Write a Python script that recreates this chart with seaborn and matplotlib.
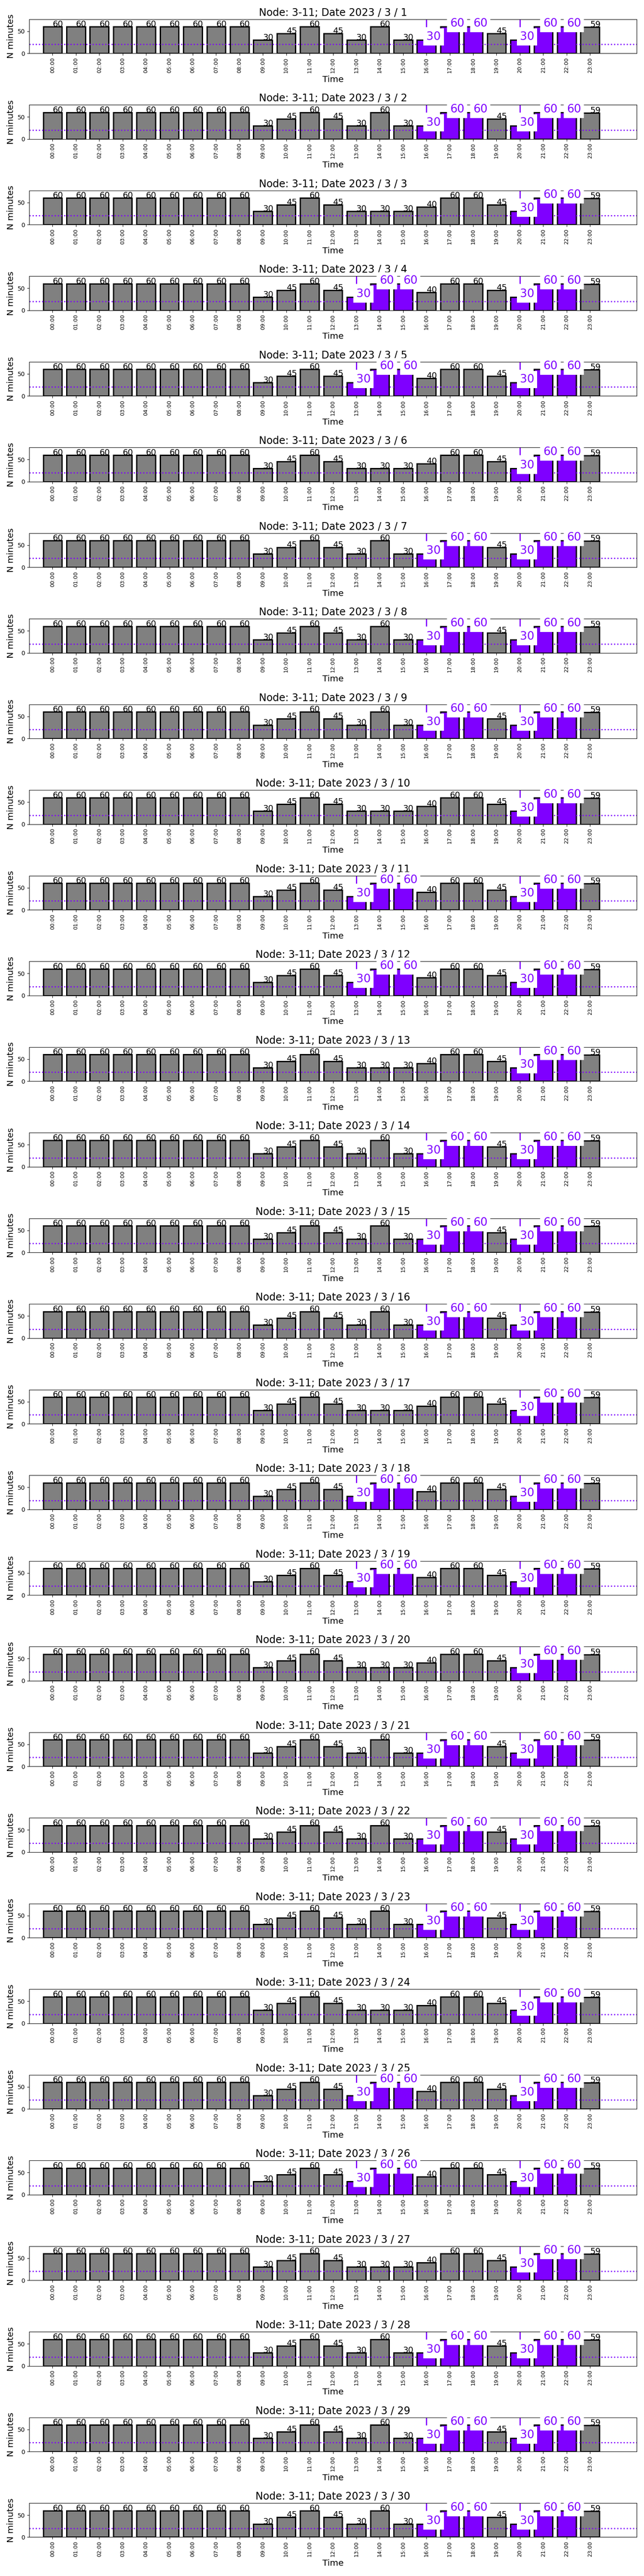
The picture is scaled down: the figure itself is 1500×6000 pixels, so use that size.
import matplotlib
matplotlib.use("Agg")
import matplotlib.pyplot as plt
import seaborn as sns
import pandas as pd

# ---------------- data ----------------
hours = ["00:00", "01:00", "02:00", "03:00", "04:00", "05:00", "06:00", "07:00",
         "08:00", "09:00", "10:00", "11:00", "12:00", "13:00", "14:00", "15:00",
         "16:00", "17:00", "18:00", "19:00", "20:00", "21:00", "22:00", "23:00"]

values_A = [60, 60, 60, 60, 60, 60, 60, 60, 60, 30, 45, 60,
            45, 30, 60, 30, 30, 60, 60, 45, 30, 60, 60, 59]
values_B = [60, 60, 60, 60, 60, 60, 60, 60, 60, 30, 45, 60,
            45, 30, 30, 30, 40, 60, 60, 45, 30, 60, 60, 59]
values_C = [60, 60, 60, 60, 60, 60, 60, 60, 60, 30, 45, 60,
            45, 30, 60, 60, 40, 60, 60, 45, 30, 60, 60, 59]

highlight_A = ["16:00", "17:00", "18:00", "20:00", "21:00", "22:00"]
highlight_B = ["20:00", "21:00", "22:00"]
highlight_C = ["13:00", "14:00", "15:00", "20:00", "21:00", "22:00"]

days = list(range(1, 31))
day_types = ["A", "A", "B", "C", "C", "B", "A", "A", "A", "B",
             "C", "C", "B", "A", "A", "A", "B", "C", "C", "B",
             "A", "A", "A", "B", "C", "C", "B", "A", "A", "A"]

node = "3-11"
threshold = 20

series = {"A": values_A, "B": values_B, "C": values_C}
highlights = {"A": highlight_A, "B": highlight_B, "C": highlight_C}

GRAY = "#808080"
PURPLE = "#7F00FF"
YMAX = 77

fig = plt.figure(figsize=(15, 60), dpi=100)
axes = fig.subplots(30, 1)
fig.subplots_adjust(left=0.0453, right=0.9887, top=1 - 45 / 6000,
                    bottom=1 - 5909.5 / 6000, hspace=1.525)

for ax, day, dt in zip(axes, days, day_types):
    vals = series[dt]
    hl = highlights[dt]
    df = pd.DataFrame({"Time": hours, "N minutes": vals})
    colors = [PURPLE if h in hl else GRAY for h in hours]
    sns.barplot(data=df, x="Time", y="N minutes", hue="Time", palette=colors,
                saturation=1, legend=False, edgecolor="black", linewidth=2.2,
                ax=ax)
    ax.axhline(threshold, color=PURPLE, linestyle=":", linewidth=2, zorder=2)
    for i, (h, v) in enumerate(zip(hours, vals)):
        if h in hl:
            # dash-dot marker line above highlighted bars
            ax.plot([i, i], [YMAX, v], color=PURPLE, linestyle="-.",
                    linewidth=2, zorder=0.5)
            ax.text(i, v, str(v), color=PURPLE, fontsize=19, zorder=4,
                    bbox=dict(facecolor="white", edgecolor="none", pad=5))
        else:
            ax.text(i, v, str(v), color="black", fontsize=14, zorder=4)
    ax.set_xlim(-1, 25)
    ax.set_ylim(0, YMAX)
    ax.set_yticks([0, 50])
    ax.tick_params(axis="y", labelsize=10)
    ax.tick_params(axis="x", labelsize=9, rotation=90)
    ax.set_title(f"Node: {node}; Date 2023 / 3 / {day}", fontsize=17)
    ax.set_xlabel("Time", fontsize=14.5)
    ax.set_ylabel("N minutes", fontsize=14.5)

fig.savefig("out.png", dpi=100)
